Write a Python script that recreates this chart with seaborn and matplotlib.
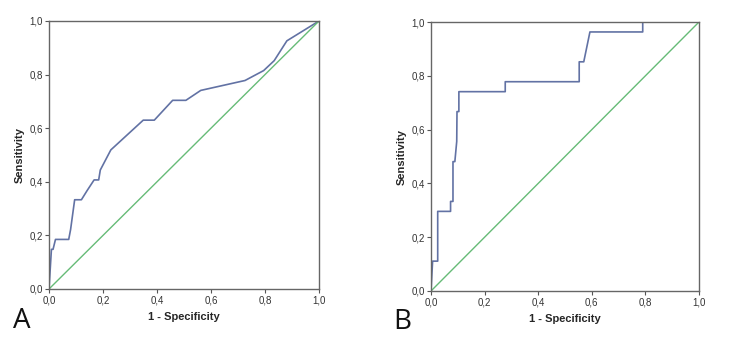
import numpy as np
import pandas as pd
import matplotlib
matplotlib.use("Agg")
import matplotlib.pyplot as plt
import seaborn as sns
from matplotlib.ticker import FuncFormatter

# ROC curve A (1 - specificity, sensitivity)
fpr_a = [0.0, 0.009, 0.015, 0.024, 0.073, 0.080, 0.095, 0.120, 0.141, 0.167, 0.184,
         0.190, 0.229, 0.349, 0.390, 0.458, 0.507, 0.562, 0.726, 0.795, 0.834, 0.881, 1.0]
tpr_a = [0.0, 0.148, 0.148, 0.185, 0.185, 0.222, 0.333, 0.333, 0.367, 0.407, 0.407,
         0.444, 0.519, 0.630, 0.630, 0.704, 0.704, 0.741, 0.778, 0.815, 0.852, 0.926, 1.0]

# ROC curve B
fpr_b = [0.0, 0.006, 0.025, 0.025, 0.073, 0.073, 0.082, 0.082, 0.089, 0.096, 0.097,
         0.104, 0.104, 0.277, 0.277, 0.553, 0.553, 0.570, 0.593, 0.790, 0.790, 1.0]
tpr_b = [0.0, 0.111, 0.111, 0.296, 0.296, 0.333, 0.333, 0.481, 0.481, 0.556, 0.667,
         0.667, 0.741, 0.741, 0.778, 0.778, 0.852, 0.852, 0.963, 0.963, 1.0, 1.0]

ref_line = [0.0, 1.0]
ticks = [0.0, 0.2, 0.4, 0.6, 0.8, 1.0]

sns.set_style("white")
plt.rcParams['font.family'] = ['Liberation Sans', 'DejaVu Sans']

fig = plt.figure(figsize=(7.5, 3.51), dpi=100)
ax_a = fig.add_axes([49/750, 1 - 289/351, 270/750, 268/351])
ax_b = fig.add_axes([431/750, 1 - 291/351, 268/750, 269/351])

comma = FuncFormatter(lambda v, p: f"{v:.1f}".replace(".", ","))

panels = [(ax_a, fpr_a, tpr_a, "A", -0.133, -0.067),
          (ax_b, fpr_b, tpr_b, "B", -0.142, -0.063)]

for ax, fx, ty, letter, lx, ly in panels:
    df = pd.DataFrame({"x": fx, "y": ty})
    sns.lineplot(data=df, x="x", y="y", sort=False, estimator=None,
                 color="#6272a4", lw=1.2, ax=ax)
    sns.lineplot(x=ref_line, y=ref_line, color="#66bb77", lw=1.0, ax=ax)
    ax.set_xlim(0, 1)
    ax.set_ylim(0, 1)
    ax.set_xticks(ticks)
    ax.set_yticks(ticks)
    ax.xaxis.set_major_formatter(comma)
    ax.yaxis.set_major_formatter(comma)
    ax.tick_params(axis="both", labelsize=7, length=3, width=0.8, color="#555555",
                   pad=1.5, labelcolor="#333333", bottom=True, left=True, direction="out")
    ax.tick_params(axis="x", pad=2)
    for s in ax.spines.values():
        s.set_color("#666666")
        s.set_linewidth(1.0)
    ax.set_xlabel("1 - Specificity", fontsize=8, fontweight="bold", labelpad=4)
    ax.set_ylabel("Sensitivity", fontsize=8, fontweight="bold", labelpad=3)
    ax.text(lx, ly, letter, transform=ax.transAxes, fontsize=20,
            va="top", ha="left", color="#111111", family=["Open Sans", "DejaVu Sans"])

fig.savefig("out.png", dpi=100)
